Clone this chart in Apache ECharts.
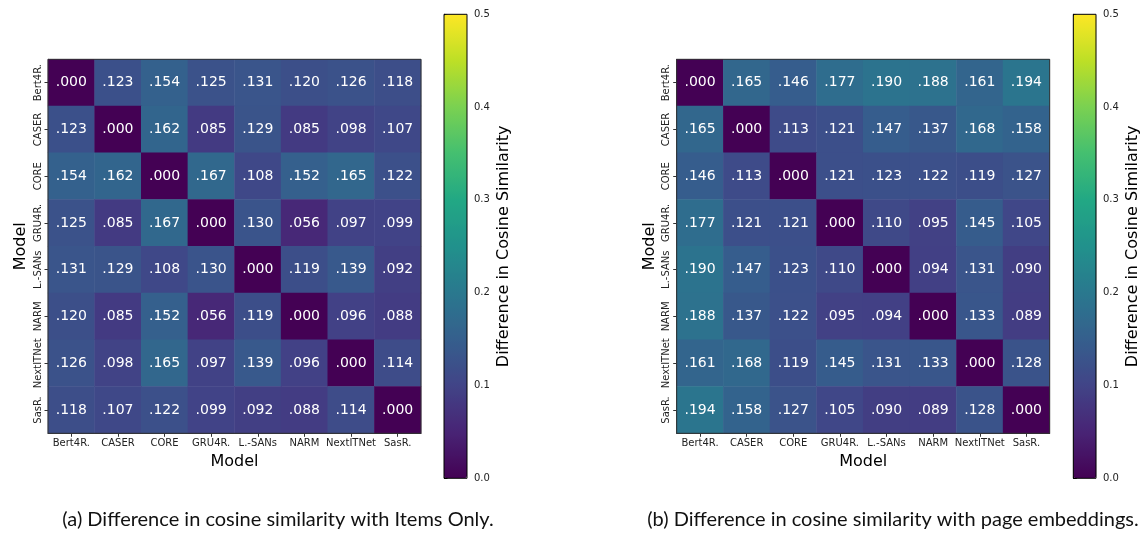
<!DOCTYPE html>
<html>
<head>
<meta charset="utf-8">
<script src="https://cdn.jsdelivr.net/npm/echarts@6/dist/echarts.min.js"></script>
<style>
html,body{margin:0;padding:0;background:#fff;}
#chart{width:1142px;height:534px;}
</style>
</head>
<body>
<div id="chart"></div>
<script>
const models = ['Bert4R.', 'CASER', 'CORE', 'GRU4R.', 'L.-SANs', 'NARM', 'NextITNet', 'SasR.'];

const itemsOnly = [
  [0.000, 0.123, 0.154, 0.125, 0.131, 0.120, 0.126, 0.118],
  [0.123, 0.000, 0.162, 0.085, 0.129, 0.085, 0.098, 0.107],
  [0.154, 0.162, 0.000, 0.167, 0.108, 0.152, 0.165, 0.122],
  [0.125, 0.085, 0.167, 0.000, 0.130, 0.056, 0.097, 0.099],
  [0.131, 0.129, 0.108, 0.130, 0.000, 0.119, 0.139, 0.092],
  [0.120, 0.085, 0.152, 0.056, 0.119, 0.000, 0.096, 0.088],
  [0.126, 0.098, 0.165, 0.097, 0.139, 0.096, 0.000, 0.114],
  [0.118, 0.107, 0.122, 0.099, 0.092, 0.088, 0.114, 0.000]
];

const pageEmb = [
  [0.000, 0.165, 0.146, 0.177, 0.190, 0.188, 0.161, 0.194],
  [0.165, 0.000, 0.113, 0.121, 0.147, 0.137, 0.168, 0.158],
  [0.146, 0.113, 0.000, 0.121, 0.123, 0.122, 0.119, 0.127],
  [0.177, 0.121, 0.121, 0.000, 0.110, 0.095, 0.145, 0.105],
  [0.190, 0.147, 0.123, 0.110, 0.000, 0.094, 0.131, 0.090],
  [0.188, 0.137, 0.122, 0.095, 0.094, 0.000, 0.133, 0.089],
  [0.161, 0.168, 0.119, 0.145, 0.131, 0.133, 0.000, 0.128],
  [0.194, 0.158, 0.127, 0.105, 0.090, 0.089, 0.128, 0.000]
];

const colorbarMin = 0;
const colorbarMax = 0.5;
const colorbarStep = 0.1;

const captionA = '(a) Difference in cosine similarity with Items Only.';
const captionB = '(b) Difference in cosine similarity with page embeddings.';
const axisTitle = 'Model';
const colorbarTitle = 'Difference in Cosine Similarity';

const viridis = ['#440154', '#482475', '#414487', '#355f8d', '#2a788e', '#21918c',
                 '#22a884', '#44bf70', '#7ad151', '#bddf26', '#fde725'];

function toCells(m) {
  const out = [];
  m.forEach((row, yi) => row.forEach((v, xi) => out.push([xi, yi, v])));
  return out;
}

const FONT = 'DejaVu Sans';
const heatW = 373, heatH = 374, heatTop = 59.3;
const panels = [
  { heatLeft: 48, barLeft: 444, data: itemsOnly, caption: captionA, capX: 278 },
  { heatLeft: 676.7, barLeft: 1073.3, data: pageEmb, caption: captionB, capX: 893 }
];

const grid = [], xAxis = [], yAxis = [], series = [], visualMap = [], graphic = [];

panels.forEach((p, i) => {
  const gHeat = grid.length;
  grid.push({ left: p.heatLeft, top: heatTop, width: heatW, height: heatH,
              show: true, borderColor: '#333', borderWidth: 1, z: 5, backgroundColor: 'transparent' });
  const gBar = grid.length;
  grid.push({ left: p.barLeft, top: 14.3, width: 23, height: 464,
              show: true, borderColor: '#000', borderWidth: 1, z: 5, backgroundColor: 'transparent' });

  xAxis.push({
    type: 'category', gridIndex: gHeat, data: models,
    name: axisTitle, nameLocation: 'middle', nameGap: 21,
    nameTextStyle: { fontFamily: FONT, fontSize: 16, color: '#000' },
    axisLine: { show: true, lineStyle: { color: '#333', width: 1 } },
    axisTick: { show: true, alignWithLabel: true, length: 3.5, lineStyle: { color: '#333' } },
    axisLabel: { fontFamily: FONT, fontSize: 10, color: '#222', margin: 5, interval: 0 },
    splitLine: { show: false }, splitArea: { show: false }
  });
  xAxis.push({ type: 'value', gridIndex: gBar, show: false, min: 0, max: 1 });

  yAxis.push({
    type: 'category', gridIndex: gHeat, data: models, inverse: true,
    name: axisTitle, nameLocation: 'middle', nameGap: 19, nameRotate: 90,
    nameTextStyle: { fontFamily: FONT, fontSize: 16, color: '#000' },
    axisLine: { show: true, lineStyle: { color: '#333', width: 1 } },
    axisTick: { show: true, alignWithLabel: true, length: 3.5, lineStyle: { color: '#333' } },
    axisLabel: { fontFamily: FONT, fontSize: 10, color: '#222', rotate: 90, margin: 5, interval: 0 },
    splitLine: { show: false }, splitArea: { show: false }
  });
  yAxis.push({
    type: 'value', gridIndex: gBar, position: 'right',
    min: colorbarMin, max: colorbarMax, interval: colorbarStep,
    name: colorbarTitle, nameLocation: 'middle', nameGap: 29, nameRotate: 90,
    nameTextStyle: { fontFamily: FONT, fontSize: 16, color: '#000' },
    axisLine: { show: true, lineStyle: { color: '#000', width: 1 } },
    axisTick: { show: true, inside: false, length: 3.5, lineStyle: { color: '#000' } },
    axisLabel: { fontFamily: FONT, fontSize: 10, color: '#222', margin: 7,
                 formatter: v => v.toFixed(1) },
    splitLine: { show: false }
  });

  series.push({
    type: 'heatmap', xAxisIndex: 2 * i, yAxisIndex: 2 * i,
    data: toCells(p.data),
    itemStyle: { borderWidth: 0 },
    label: {
      show: true, color: '#fff', fontFamily: FONT, fontSize: 14,
      formatter: d => d.value[2].toFixed(3).replace(/^0/, '')
    },
    emphasis: { disabled: true }
  });

  visualMap.push({
    type: 'continuous', seriesIndex: i, min: colorbarMin, max: colorbarMax,
    left: p.barLeft, top: 14.3, itemWidth: 23, itemHeight: 464,
    padding: 0, calculable: false, realtime: false, text: null, showLabel: false,
    hoverLink: false,
    inRange: { color: viridis }
  });

  graphic.push({
    type: 'text', x: p.capX, y: 520,
    style: { text: p.caption, fontFamily: 'Lato, sans-serif', fontSize: 20,
             fill: '#111', align: 'center', verticalAlign: 'middle' }
  });
});

const chart = echarts.init(document.getElementById('chart'), null, { renderer: 'canvas' });
chart.setOption({
  animation: false,
  backgroundColor: '#fff',
  grid, xAxis, yAxis, series, visualMap, graphic
});
</script>
</body>
</html>
